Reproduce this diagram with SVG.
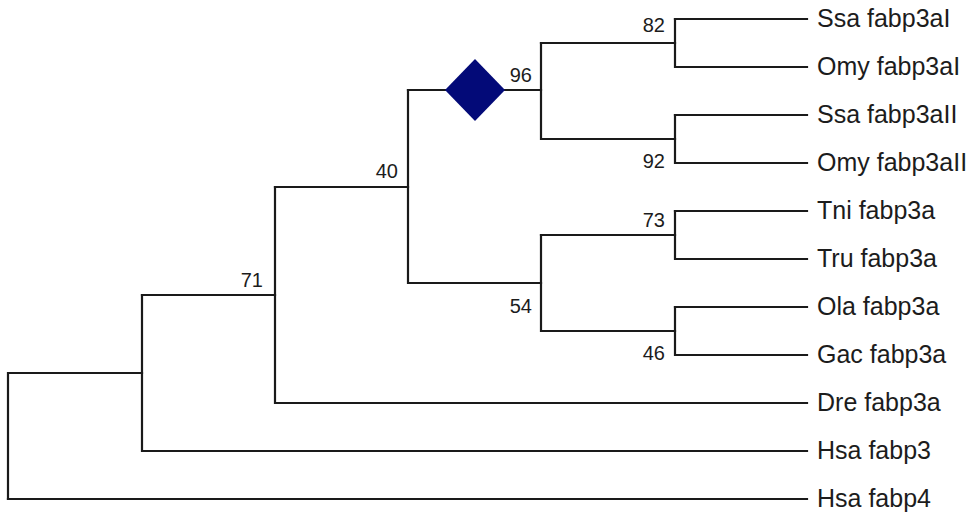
<svg xmlns="http://www.w3.org/2000/svg" width="973" height="516" viewBox="0 0 973 516">
<style>
.br{fill:none;stroke:#1a1a1a;stroke-width:2.2;stroke-linecap:square}
.leaf{font-family:"Liberation Sans",Arial,sans-serif;font-size:25px;fill:#1c1c1c}
.bs{font-family:"Liberation Sans",Arial,sans-serif;font-size:20px;fill:#1c1c1c;text-anchor:end}
</style>
<rect width="973" height="516" fill="#ffffff"/>
<g id="connectors">
<path class="br" d="M8,499 V373 H142"/>
<path class="br" d="M8,499 H807"/>
<path class="br" d="M142,295 V451 H807"/>
<path class="br" d="M142,295 H275"/>
<path class="br" d="M275,187 V403 H807"/>
<path class="br" d="M275,187 H408"/>
<path class="br" d="M408,90 V283 H541"/>
<path class="br" d="M408,90 H445"/>
<path class="br" d="M505,90 H541"/>
<path class="br" d="M541,43 V139 H675"/>
<path class="br" d="M541,43 H675"/>
<path class="br" d="M675,19 V67 H807"/>
<path class="br" d="M675,19 H807"/>
<path class="br" d="M675,115 V163 H807"/>
<path class="br" d="M675,115 H807"/>
<path class="br" d="M541,235 V331 H675"/>
<path class="br" d="M541,235 H675"/>
<path class="br" d="M675,211 V259 H807"/>
<path class="br" d="M675,211 H807"/>
<path class="br" d="M675,307 V355 H807"/>
<path class="br" d="M675,307 H807"/>
</g>
<g id="node-diamond"><polygon points="475,59 505,90 475,121 445,90" fill="#030a78"/></g>
<g id="node-96"><text class="bs" x="532" y="82">96</text></g>
<g id="node-82"><text class="bs" x="665" y="32">82</text></g>
<g id="node-92"><text class="bs" x="665" y="168">92</text></g>
<g id="node-40"><text class="bs" x="398" y="178">40</text></g>
<g id="node-71"><text class="bs" x="263" y="287">71</text></g>
<g id="node-54"><text class="bs" x="532" y="313">54</text></g>
<g id="node-73"><text class="bs" x="665" y="227">73</text></g>
<g id="node-46"><text class="bs" x="665" y="360">46</text></g>
<g id="leaf-ssa-fabp3ai"><text class="leaf" x="817" y="27">Ssa fabp3aI</text></g>
<g id="leaf-omy-fabp3ai"><text class="leaf" x="817" y="75">Omy fabp3aI</text></g>
<g id="leaf-ssa-fabp3aii"><text class="leaf" x="817" y="123">Ssa fabp3aII</text></g>
<g id="leaf-omy-fabp3aii"><text class="leaf" x="817" y="171">Omy fabp3aII</text></g>
<g id="leaf-tni-fabp3a"><text class="leaf" x="817" y="219">Tni fabp3a</text></g>
<g id="leaf-tru-fabp3a"><text class="leaf" x="817" y="267">Tru fabp3a</text></g>
<g id="leaf-ola-fabp3a"><text class="leaf" x="817" y="315">Ola fabp3a</text></g>
<g id="leaf-gac-fabp3a"><text class="leaf" x="817" y="363">Gac fabp3a</text></g>
<g id="leaf-dre-fabp3a"><text class="leaf" x="817" y="411">Dre fabp3a</text></g>
<g id="leaf-hsa-fabp3"><text class="leaf" x="817" y="459">Hsa fabp3</text></g>
<g id="leaf-hsa-fabp4"><text class="leaf" x="817" y="507">Hsa fabp4</text></g>
</svg>
